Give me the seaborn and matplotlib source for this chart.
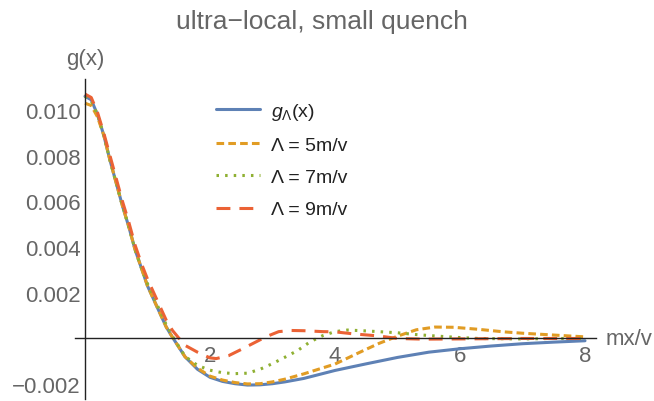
import numpy as np
import pandas as pd
import matplotlib
matplotlib.use("Agg")
import matplotlib.pyplot as plt
import seaborn as sns
from matplotlib.ticker import MultipleLocator, FixedLocator

# values
x_blue = [0, 0.1, 0.2, 0.3, 0.4, 0.5, 0.6, 0.7, 0.8, 0.9, 1.0, 1.1, 1.2, 1.3, 1.4, 1.6, 1.8,
          2.0, 2.2, 2.4, 2.6, 2.8, 3.0, 3.2, 3.5, 4.0, 4.5, 5.0, 5.5, 6.0, 6.5, 7.0, 7.5, 8.0]
g_blue = [0.0106, 0.01045, 0.0098, 0.0089, 0.0078, 0.0068, 0.0058, 0.0049, 0.0039, 0.0031, 0.0023,
          0.0017, 0.0011, 0.0005, 0.00005, -0.0008, -0.00135, -0.0017, -0.00188, -0.00198, -0.00204,
          -0.00203, -0.00198, -0.0019, -0.00175, -0.0014, -0.00111, -0.00083, -0.0006, -0.00045,
          -0.00033, -0.00023, -0.00016, -0.0001]

x_l5 = [0, 0.1, 0.2, 0.3, 0.4, 0.5, 0.6, 0.7, 0.8, 0.9, 1.0, 1.1, 1.2, 1.3, 1.4, 1.6, 1.8,
        2.0, 2.2, 2.4, 2.6, 2.8, 3.0, 3.2, 3.5, 4.0, 4.4, 4.7, 5.0, 5.3, 5.6, 5.9, 6.3, 6.7, 7.0,
        7.5, 8.0]
g_l5 = [0.0103, 0.0102, 0.0097, 0.0089, 0.0078, 0.0068, 0.0058, 0.0049, 0.0039, 0.0031, 0.0023,
        0.0017, 0.0011, 0.0005, 0.00005, -0.0008, -0.0013, -0.00165, -0.00182, -0.00193, -0.00199,
        -0.00198, -0.0019, -0.00178, -0.00155, -0.00112, -0.0006, -0.00022, 0.0001, 0.00038,
        0.0005, 0.00049, 0.0004, 0.00029, 0.00023, 0.00015, 0.00007]

x_l7 = [0, 0.1, 0.2, 0.3, 0.4, 0.5, 0.6, 0.7, 0.8, 0.9, 1.0, 1.1, 1.2, 1.3, 1.4, 1.6, 1.8,
        2.0, 2.2, 2.4, 2.6, 2.8, 3.0, 3.2, 3.4, 3.6, 3.8, 4.0, 4.2, 4.5, 5.0, 5.3, 5.6, 6.0, 6.3,
        7.0, 7.5, 8.0]
g_l7 = [0.0106, 0.0104, 0.0098, 0.0089, 0.0078, 0.0068, 0.0058, 0.0049, 0.0039, 0.0031, 0.0024,
        0.0018, 0.0012, 0.0006, 0.0001, -0.00078, -0.00118, -0.00139, -0.0015, -0.00154, -0.00152,
        -0.00135, -0.0011, -0.00082, -0.00053, -0.00015, 0.00012, 0.0003, 0.00037, 0.00033,
        0.00025, 0.00017, 0.00011, 0.00004, 0.0, -0.00002, 0.0, 0.0]

x_l9 = [0, 0.1, 0.2, 0.3, 0.4, 0.5, 0.6, 0.7, 0.8, 0.9, 1.0, 1.1, 1.2, 1.3, 1.4, 1.5, 1.6, 1.8,
        2.0, 2.1, 2.3, 2.5, 2.7, 2.9, 3.1, 3.3, 3.5, 3.8, 4.0, 4.3, 4.7, 5.0, 5.4, 6.0, 7.0, 8.0]
g_l9 = [0.0107, 0.01055, 0.0099, 0.0090, 0.0080, 0.0070, 0.0060, 0.0051, 0.0041, 0.0033, 0.0026,
        0.0020, 0.0014, 0.0008, 0.00035, 0.00002, -0.0003, -0.0006, -0.00085, -0.00088, -0.00075,
        -0.00048, -0.0002, 0.00008, 0.0003, 0.00035, 0.00034, 0.0003, 0.00029, 0.0002, 0.00011,
        0.0, -0.00003, -0.00002, 0.0, 0.0]

labels = [r"$g_{\Lambda}$(x)", "Λ = 5m/v", "Λ = 7m/v", "Λ = 9m/v"]
colors = ["#5E81B5", "#E19C24", "#8FB032", "#EB6235"]
styles = ["-", (0, (5.5, 3.0)), (0, (1.8, 4.4)), (0, (10.0, 6.5))]

y_ticks = [-0.002, 0.002, 0.004, 0.006, 0.008, 0.010]
y_ticklabels = ["\u22120.002", "0.002", "0.004", "0.006", "0.008", "0.010"]
x_ticks = [2, 4, 6, 8]

sns.set_style("white")
plt.rcParams["font.family"] = ["Liberation Sans", "DejaVu Sans"]
plt.rcParams["mathtext.fontset"] = "custom"
plt.rcParams["mathtext.it"] = "Liberation Sans:italic"
plt.rcParams["mathtext.rm"] = "Liberation Sans"
plt.rcParams["lines.scale_dashes"] = False

gray = "#666666"

fig = plt.figure(figsize=(6.54, 4.02), dpi=100)
ax = fig.add_axes([75 / 654, 2 / 402, 521 / 654, 320 / 402])

series = [(x_blue, g_blue), (x_l5, g_l5), (x_l7, g_l7), (x_l9, g_l9)]
for (xs, gs), lab, c, ls in zip(series, labels, colors, styles):
    sns.lineplot(x=xs, y=gs, ax=ax, color=c, linestyle=ls, linewidth=2.2, label=lab,
                 sort=False, estimator=None)

ax.set_xlim(-0.16, 8.176)
ax.set_ylim(-0.00265, 0.01136)

for s in ["top", "right"]:
    ax.spines[s].set_visible(False)
ax.spines["left"].set_position(("data", 0))
ax.spines["bottom"].set_position(("data", 0))
for s in ["left", "bottom"]:
    ax.spines[s].set_color("#222222")
    ax.spines[s].set_linewidth(1.0)

ax.xaxis.set_major_locator(FixedLocator(x_ticks))
ax.xaxis.set_minor_locator(MultipleLocator(0.5))
ax.yaxis.set_major_locator(FixedLocator(y_ticks))
ax.yaxis.set_minor_locator(MultipleLocator(0.0005))
ax.set_yticklabels(y_ticklabels)
ax.tick_params(axis="both", which="major", direction="in", length=4, width=0.8,
               color="#888888", labelsize=16, labelcolor=gray, pad=3)
ax.tick_params(axis="x", which="major", pad=5)
ax.tick_params(axis="both", which="minor", direction="in", length=2.5, width=0.6,
               color="#888888")

ax.text(8.33, 0, "mx/v", ha="left", va="center", fontsize=16, color=gray, clip_on=False)
fig.text(85 / 654, 1 - 60 / 402, "g(x)", ha="center", va="center", fontsize=16, color=gray)
fig.text(322 / 654, 1 - 22 / 402, "ultra\u2212local, small quench", ha="center", va="center",
         fontsize=19, color=gray)

ax.legend(loc="upper left", bbox_to_anchor=(206 / 654, 1 - 92 / 402),
          bbox_transform=fig.transFigure, frameon=False, fontsize=14,
          handlelength=2.3, handletextpad=0.55, labelspacing=0.75, borderpad=0,
          labelcolor="#222222")

fig.savefig("out.png", dpi=100)
